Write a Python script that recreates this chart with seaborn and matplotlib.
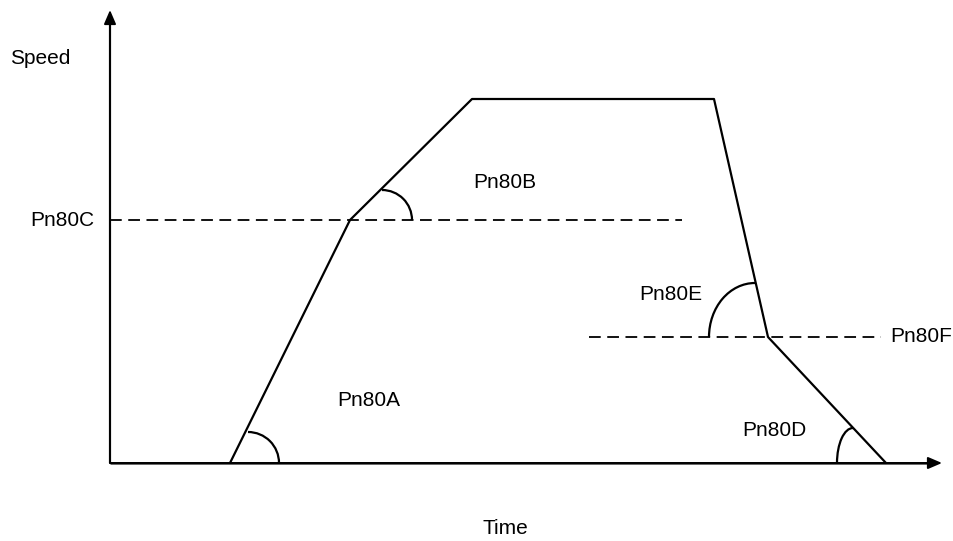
import matplotlib
matplotlib.use("Agg")
import matplotlib.pyplot as plt
from matplotlib.patches import Arc
import seaborn as sns
import pandas as pd

# Speed profile vertices (time, speed) in drawing units
profile_time = [120, 240, 362, 604, 658, 776]
profile_speed = [0, 243, 364, 364, 126, 0]

# Threshold levels (dashed lines): (level, t_start, t_end)
pn80c_level, pn80c_t0, pn80c_t1 = 243, 0, 572
pn80f_level, pn80f_t0, pn80f_t1 = 126, 479, 771

# Angle arcs: (centre_t, centre_s, rx, ry, theta1, theta2)
arc_specs = [
    (138, 0, 31, 31, 0, 90),      # Pn80A
    (272, 243, 30, 30, 0, 90),    # Pn80B
    (645, 126, 46, 54, 90, 180),  # Pn80E
    (743, 0, 16, 35, 90, 180),    # Pn80D
]

# Labels: (text, t, s)
labels = [
    ("Speed", -100, 405),
    ("Pn80C", -80, 243),
    ("Pn80B", 363, 280),
    ("Pn80E", 529, 168),
    ("Pn80F", 780, 126),
    ("Pn80A", 227, 63),
    ("Pn80D", 632, 33),
    ("Time", 373, -65),
]

sns.set_theme(style="white")
plt.rcParams["font.family"] = ["Liberation Sans", "DejaVu Sans"]

fig = plt.figure(figsize=(9.54, 5.41), dpi=100)
ax = fig.add_axes([0, 0, 1, 1])
ax.set_xlim(-110, 844)
ax.set_ylim(-78, 463)
ax.axis("off")

df = pd.DataFrame({"time": profile_time, "speed": profile_speed})
sns.lineplot(data=df, x="time", y="speed", sort=False, estimator=None,
             color="black", linewidth=1.6, ax=ax)

dash = (6.5, 3.6)
ax.plot([pn80c_t0, pn80c_t1], [pn80c_level, pn80c_level], color="black",
        linewidth=1.3, dashes=dash)
ax.plot([pn80f_t0, pn80f_t1], [pn80f_level, pn80f_level], color="black",
        linewidth=1.3, dashes=dash)

for cx, cy, rx, ry, t1, t2 in arc_specs:
    ax.add_patch(Arc((cx, cy), 2 * rx, 2 * ry, theta1=t1, theta2=t2,
                     color="black", linewidth=1.6))

# Axes with arrowheads
axis_color = "#3a3a3a"
ax.annotate("", xy=(0, 453), xytext=(0, 0),
            arrowprops=dict(arrowstyle="-|>,head_length=0.7,head_width=0.3",
                            color="black", lw=1.4, shrinkA=0, shrinkB=0))
ax.annotate("", xy=(832, 0), xytext=(0, 0),
            arrowprops=dict(arrowstyle="-|>,head_length=0.7,head_width=0.3",
                            color="black", lw=1.4, shrinkA=0, shrinkB=0))
ax.plot([0, 0], [0, 440], color=axis_color, linewidth=1.6, solid_capstyle="butt")
ax.plot([0, 820], [0, 0], color=axis_color, linewidth=1.8, solid_capstyle="butt")

for text, t, s in labels:
    ax.text(t, s, text, fontsize=15, ha="left", va="center", color="black")

fig.savefig("out.png", dpi=100)
